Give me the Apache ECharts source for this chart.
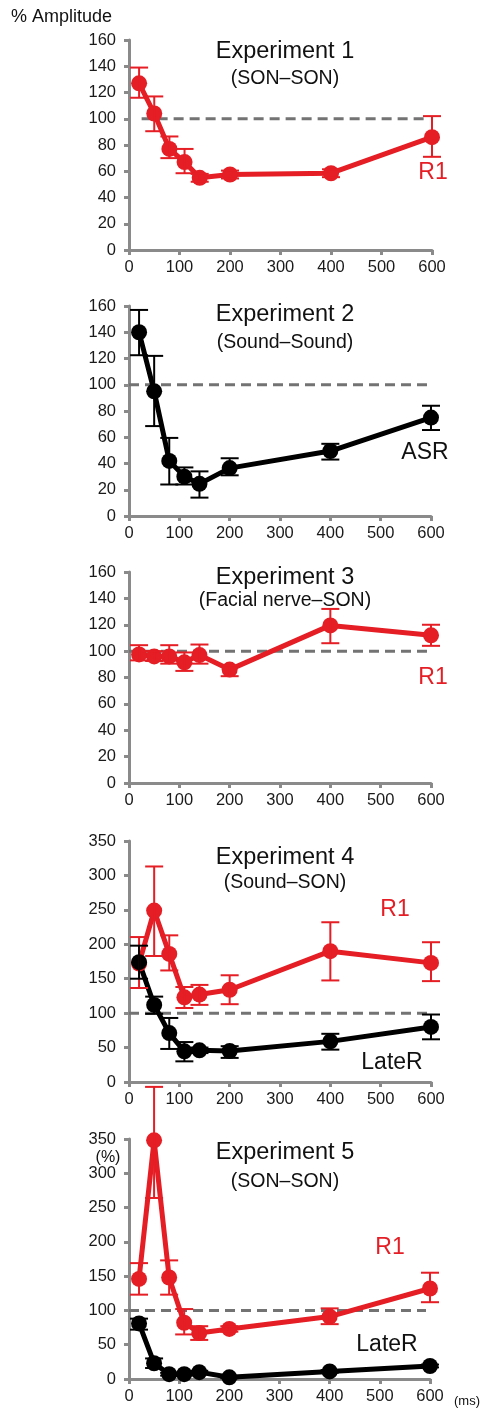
<!DOCTYPE html>
<html><head><meta charset="utf-8">
<script src="https://cdn.jsdelivr.net/npm/echarts@6/dist/echarts.min.js"></script>
<style>html,body{margin:0;padding:0;background:#fff}#c{width:483px;height:1410px}</style>
</head><body><div id="c"></div>
<script>
const delays = [20, 50, 80, 110, 140, 200, 400, 600];
const xTicks = [0, 100, 200, 300, 400, 500, 600];

const exp1R1   = [127, 104, 77, 67, 55, 57.5, 58.5, 86];
const exp1R1Lo = [116, 90.5, 70, 58.5, 52, 54.5, 55.5, 71];
const exp1R1Hi = [139, 117, 86.5, 77, 58, 60.5, 61.5, 102];

const exp2ASR   = [140, 95, 42, 30, 24.5, 36.5, 49.5, 75];
const exp2ASRLo = [122.5, 68.5, 24, 24, 14, 31, 43, 65.5];
const exp2ASRHi = [157, 122, 59.5, 37, 34, 44, 55, 84];

const exp3R1   = [97.5, 96, 96, 91.5, 97, 86, 119.5, 112];
const exp3R1Lo = [93, 92.5, 90.5, 85, 90.5, 81, 106, 104];
const exp3R1Hi = [104.5, 100, 104.5, 99, 105, 89, 132, 120];

const exp4R1   = [172, 249, 186, 123, 127, 134, 190, 173];
const exp4R1Lo = [136.5, 183, 162, 107.5, 112, 113, 147.5, 146.5];
const exp4R1Hi = [210.5, 313, 213, 138, 141, 155, 232, 203];
const exp4LateR   = [174, 112, 71, 44.5, 46, 45, 59, 80];
const exp4LateRLo = [150, 99, 48, 30, 42, 35, 47, 62];
const exp4LateRHi = [198, 124, 93, 58, 50, 52, 70, 98];

const exp5R1   = [146, 348, 148, 82, 67, 73, 91, 132];
const exp5R1Lo = [123, 264, 123, 65, 57, 69, 80, 112];
const exp5R1Hi = [169, 426, 173, 102, 77, 77, 103, 155];
const exp5LateR   = [81, 23, 7, 7, 10, 2.5, 11, 19];
const exp5LateRLo = [72, 16, 5, 5, 8, 1, 9, 17];
const exp5LateRHi = [88, 30, 9, 9, 12, 4, 13, 21];

const RED = '#e51d24', BLACK = '#000', AXIS = '#8a8a8a', DASH = '#737373';
const FONT = 'Liberation Sans, Arial, Helvetica, sans-serif';

const grids = [
  {left:129, width:303, top:40, height:210},
  {left:129, width:302, top:306, height:210},
  {left:129, width:302, top:572, height:211},
  {left:129, width:302, top:841, height:241},
  {left:129, width:301, top:1139, height:240}
];
const yMax = [160, 160, 160, 350, 350];
const yInt = [20, 20, 20, 50, 50];

const option = {
  animation: false,
  backgroundColor: '#fff',
  grid: grids,
  xAxis: grids.map((g, i) => ({
    gridIndex: i, type: 'value', min: 0, max: 600, interval: 100,
    axisLine: {show: true, lineStyle: {color: AXIS, width: 3}},
    axisTick: {show: true, length: 5, lineStyle: {color: AXIS, width: 3}},
    axisLabel: {color: '#1a1a1a', fontSize: 16.5, fontFamily: FONT, margin: 9},
    splitLine: {show: false}
  })),
  yAxis: grids.map((g, i) => ({
    gridIndex: i, type: 'value', min: 0, max: yMax[i], interval: yInt[i],
    axisLine: {show: true, lineStyle: {color: AXIS, width: 3}},
    axisTick: {show: true, length: 5, lineStyle: {color: AXIS, width: 3}},
    axisLabel: {color: '#1a1a1a', fontSize: 16.5, fontFamily: FONT, margin: 13},
    splitLine: {show: false}
  })),
  series: [],
  graphic: []
};

function zip(a, b) { return a.map((v, i) => [v, b[i]]); }

function addPanel(idx, means, lo, hi, color) {
  option.series.push({
    type: 'line', xAxisIndex: idx, yAxisIndex: idx, z: 3,
    data: zip(delays, means),
    symbol: 'circle', symbolSize: 16,
    lineStyle: {color: color, width: 5},
    itemStyle: {color: color},
    clip: false
  });
  option.series.push({
    type: 'custom', xAxisIndex: idx, yAxisIndex: idx, z: 4, clip: false,
    data: delays.map((d, i) => [d, lo[i], hi[i]]),
    renderItem: function (params, api) {
      const x = api.value(0);
      const pLo = api.coord([x, api.value(1)]);
      const pHi = api.coord([x, api.value(2)]);
      const w = 9;
      const st = {stroke: color, lineWidth: 2};
      return {type: 'group', children: [
        {type: 'line', shape: {x1: pLo[0], y1: pLo[1], x2: pHi[0], y2: pHi[1]}, style: st},
        {type: 'line', shape: {x1: pLo[0] - w, y1: pLo[1], x2: pLo[0] + w, y2: pLo[1]}, style: st},
        {type: 'line', shape: {x1: pHi[0] - w, y1: pHi[1], x2: pHi[0] + w, y2: pHi[1]}, style: st}
      ]};
    }
  });
}

function addRef(idx, start) {
  option.series.push({
    type: 'line', xAxisIndex: idx, yAxisIndex: idx, z: 2,
    data: [[start, 100], [592, 100]], symbol: 'none', silent: true,
    lineStyle: {color: DASH, width: 3, type: [10, 6]}
  });
}

addRef(0, 25); addRef(1, 0); addRef(2, 0); addRef(3, 0); addRef(4, 0);
addPanel(0, exp1R1, exp1R1Lo, exp1R1Hi, RED);
addPanel(1, exp2ASR, exp2ASRLo, exp2ASRHi, BLACK);
addPanel(2, exp3R1, exp3R1Lo, exp3R1Hi, RED);
addPanel(3, exp4R1, exp4R1Lo, exp4R1Hi, RED);
addPanel(3, exp4LateR, exp4LateRLo, exp4LateRHi, BLACK);
addPanel(4, exp5R1, exp5R1Lo, exp5R1Hi, RED);
addPanel(4, exp5LateR, exp5LateRLo, exp5LateRHi, BLACK);

function txt(x, y, s, size, color, align) {
  option.graphic.push({
    type: 'text', x: x, y: y, z: 10,
    style: {text: s, fontSize: size, fontFamily: FONT, fill: color || '#111',
            align: align || 'center', verticalAlign: 'middle'}
  });
}

txt(11, 17, '% Amplitude', 18, '#111', 'left');
const titles = [
  ['Experiment 1', '(SON\u2013SON)', 52, 79],
  ['Experiment 2', '(Sound\u2013Sound)', 315, 343],
  ['Experiment 3', '(Facial nerve\u2013SON)', 578, 601],
  ['Experiment 4', '(Sound\u2013SON)', 858, 883],
  ['Experiment 5', '(SON\u2013SON)', 1153, 1182]
];
titles.forEach(t => { txt(285, t[2], t[0], 23.5); txt(285, t[3], t[1], 19.5); });

txt(433, 173, 'R1', 23, RED);
txt(425, 453, 'ASR', 23, '#111');
txt(433, 678, 'R1', 23, RED);
txt(395, 910, 'R1', 23, RED);
txt(392, 1063, 'LateR', 23, '#111');
txt(390, 1248, 'R1', 23, RED);
txt(387, 1345, 'LateR', 23, '#111');
txt(108, 1158, '(%)', 16, '#111');
txt(467, 1401, '(ms)', 13, '#111');

const chart = echarts.init(document.getElementById('c'), null, {renderer: 'canvas'});
chart.setOption(option);
</script>
</body></html>
